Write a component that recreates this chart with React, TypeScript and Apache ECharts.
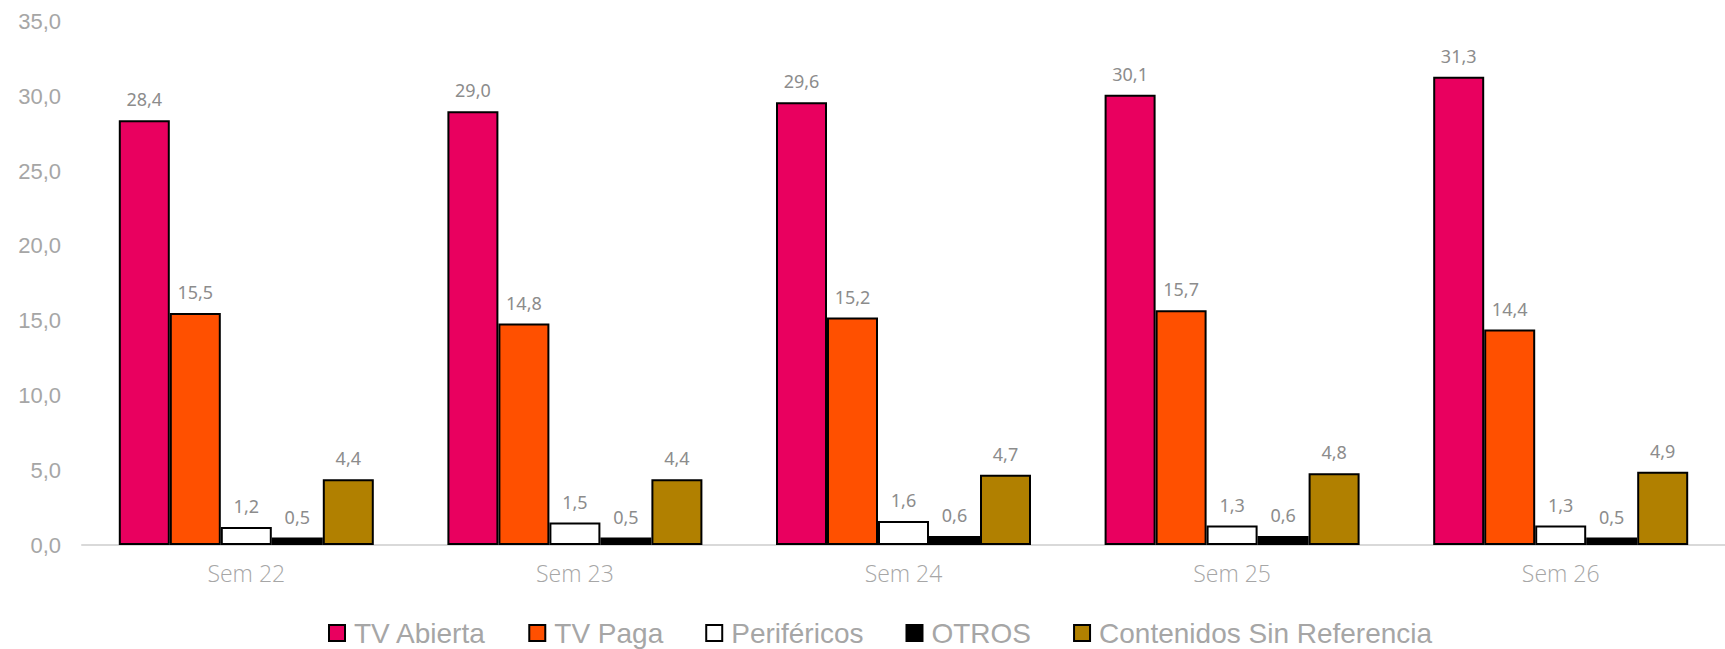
import React, { useEffect, useRef } from "react";
import * as echarts from "echarts";

const categories = ["Sem 22", "Sem 23", "Sem 24", "Sem 25", "Sem 26"];
const seriesNames = ["TV Abierta", "TV Paga", "Periféricos", "OTROS", "Contenidos Sin Referencia"];
const tvAbierta = [28.4, 29.0, 29.6, 30.1, 31.3];
const tvPaga = [15.5, 14.8, 15.2, 15.7, 14.4];
const perifericos = [1.2, 1.5, 1.6, 1.3, 1.3];
const otros = [0.5, 0.5, 0.6, 0.6, 0.5];
const contenidos = [4.4, 4.4, 4.7, 4.8, 4.9];
const seriesColors = ["#E9005F", "#FF5000", "#FFFFFF", "#000000", "#B18000"];

const fmt = (v: number) => v.toFixed(1).replace(".", ",");

export default function App() {
  const ref = useRef<HTMLDivElement>(null);
  useEffect(() => {
    if (!ref.current) return;
    const chart = echarts.init(ref.current, undefined, { renderer: "svg" });
    const values = [tvAbierta, tvPaga, perifericos, otros, contenidos];
    chart.setOption({
      animation: false,
      backgroundColor: "#FFFFFF",
      grid: { left: 82, top: 21.4, width: 1654, height: 523.6, containLabel: false },
      legend: {
        left: 328,
        top: 619,
        itemWidth: 16,
        itemHeight: 16,
        itemGap: 42,
        icon: "rect",
        padding: 0,
        textStyle: {
          fontFamily: "Liberation Sans, Arial, sans-serif",
          fontSize: 28,
          lineHeight: 28,
          color: "#A6A6A6",
          padding: [0, 0, 0, 4],
        },
        data: seriesNames,
      },
      xAxis: {
        type: "category",
        data: categories,
        axisLine: { show: true, lineStyle: { color: "#D9D9D9", width: 2 } },
        axisTick: { show: false },
        axisLabel: {
          fontFamily: "Open Sans, sans-serif",
          fontWeight: 300,
          fontSize: 23,
          color: "#A6A6A6",
          margin: 16,
        },
      },
      yAxis: {
        type: "value",
        min: 0,
        max: 35,
        interval: 5,
        axisLine: { show: false },
        axisTick: { show: false },
        splitLine: { show: false },
        axisLabel: {
          fontFamily: "Liberation Sans, Arial, sans-serif",
          fontSize: 22,
          color: "#A6A6A6",
          margin: 21,
          formatter: (v: number) => fmt(v),
        },
      },
      series: seriesNames.map((name, i) => ({
        name,
        type: "bar",
        data: values[i],
        barWidth: 51,
        barGap: "0%",
        itemStyle: { color: seriesColors[i], borderColor: "#000000", borderWidth: 2 },
        label: {
          show: true,
          position: "top",
          distance: 12,
          fontFamily: "Noto Sans, sans-serif",
          fontSize: 18,
          color: "#8C8C8C",
          formatter: (p: any) => fmt(p.value),
        },
      })),
    });
    return () => chart.dispose();
  }, []);
  return (
    <div
      ref={ref}
      style={{ position: "fixed", left: 0, top: 0, width: 1725, height: 649, background: "#FFFFFF" }}
    />
  );
}
